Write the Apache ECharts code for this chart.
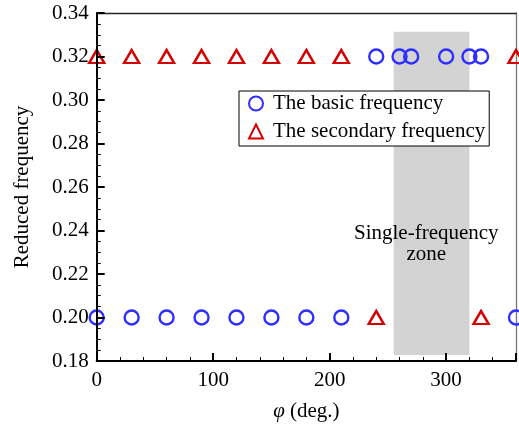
<!DOCTYPE html>
<html>
<head>
<meta charset="utf-8">
<script src="https://cdn.jsdelivr.net/npm/echarts@6/dist/echarts.min.js"></script>
<style>html,body{margin:0;padding:0;background:#fff;}#c{width:519px;height:429px;}</style>
</head>
<body>
<div id="c"></div>
<script>
// Data
var basicPhi = [0, 30, 60, 90, 120, 150, 180, 210, 240, 260, 270, 300, 320, 330, 360];
var basicFreq = [0.20, 0.20, 0.20, 0.20, 0.20, 0.20, 0.20, 0.20, 0.32, 0.32, 0.32, 0.32, 0.32, 0.32, 0.20];
var secondaryPhi = [0, 30, 60, 90, 120, 150, 180, 210, 240, 330, 360];
var secondaryFreq = [0.32, 0.32, 0.32, 0.32, 0.32, 0.32, 0.32, 0.32, 0.20, 0.20, 0.32];
var zonePhi = [255, 320];
var zoneFreq = [0.1828, 0.3314];
var zoneLabelPos = [283, 0.2338];
var xTicks = [0, 100, 200, 300];
var yTicks = [0.18, 0.20, 0.22, 0.24, 0.26, 0.28, 0.30, 0.32, 0.34];
var seriesNames = ['The basic frequency', 'The secondary frequency'];
var zoneText = 'Single-frequency\nzone';

function pairs(xs, ys) { return xs.map(function (x, i) { return [x, ys[i]]; }); }

var font = 'Liberation Serif';
var fs = 21;
var chart = echarts.init(document.getElementById('c'), null, {renderer: 'canvas'});
chart.setOption({
  animation: false,
  backgroundColor: '#fff',
  grid: {left: 96.7, right: 2.5, top: 13, bottom: 68, show: false},
  xAxis: [{
    type: 'value', min: 0, max: 360, interval: 100,
    name: '{i|φ} (deg.)', nameLocation: 'middle', nameGap: 40,
    nameTextStyle: {fontFamily: font, fontSize: fs, color: '#000', rich: {i: {fontFamily: font, fontStyle: 'italic', fontSize: fs}}},
    axisLine: {show: true, onZero: false, lineStyle: {color: '#000', width: 2}},
    axisTick: {show: true, inside: true, length: 8, lineStyle: {color: '#000', width: 2}},
    minorTick: {show: true, splitNumber: 5, length: 4, lineStyle: {color: '#000', width: 1}},
    axisLabel: {fontFamily: font, fontSize: fs, color: '#000', margin: 9,
      formatter: function (v) { return xTicks.indexOf(v) >= 0 ? String(v) : ''; }},
    splitLine: {show: false}, z: 6
  }, {
    type: 'value', min: 0, max: 360, interval: 100, position: 'top',
    axisLine: {show: true, onZero: false, lineStyle: {color: '#222', width: 1.3}},
    axisTick: {show: false}, axisLabel: {show: false}, splitLine: {show: false}
  }],
  yAxis: [{
    type: 'value', min: 0.18, max: 0.34, interval: 0.02,
    name: 'Reduced frequency', nameLocation: 'middle', nameGap: 64,
    nameTextStyle: {fontFamily: font, fontSize: fs, color: '#000'},
    axisLine: {show: true, onZero: false, lineStyle: {color: '#000', width: 2}},
    axisTick: {show: true, inside: true, length: 8, lineStyle: {color: '#000', width: 2}},
    minorTick: {show: true, splitNumber: 4, length: 4, lineStyle: {color: '#000', width: 1}},
    axisLabel: {fontFamily: font, fontSize: fs, color: '#000', margin: 8,
      formatter: function (v) {
        var s = v.toFixed(2);
        return yTicks.some(function (t) { return Math.abs(t - v) < 1e-9; }) ? s : '';
      }},
    splitLine: {show: false}, z: 6
  }, {
    type: 'value', min: 0.18, max: 0.34, interval: 0.02, position: 'right',
    axisLine: {show: true, onZero: false, lineStyle: {color: '#777', width: 1.3}},
    axisTick: {show: false}, axisLabel: {show: false}, splitLine: {show: false}
  }],
  legend: {
    orient: 'vertical', left: 239, top: 91,
    padding: [2, 4, 4, 9], itemGap: 7,
    borderColor: '#000', borderWidth: 1, backgroundColor: '#fff', borderRadius: 0,
    itemWidth: 14, itemHeight: 14,
    textStyle: {fontFamily: font, fontSize: fs, color: '#000', padding: [0, 0, 0, 5]},
    data: seriesNames
  },
  series: [
    {
      name: 'zone', type: 'scatter', data: [], silent: true, z: 1,
      markArea: {
        silent: true,
        itemStyle: {color: '#d3d3d3', opacity: 1},
        data: [[{xAxis: zonePhi[0], yAxis: zoneFreq[0]}, {xAxis: zonePhi[1], yAxis: zoneFreq[1]}]]
      }
    },
    {
      name: 'zoneLabel', type: 'scatter', symbolSize: 0, silent: true, z: 3,
      itemStyle: {opacity: 1},
      data: [zoneLabelPos],
      label: {show: true, position: 'inside', formatter: zoneText, fontFamily: font, fontSize: fs, color: '#000', lineHeight: 21, align: 'center', verticalAlign: 'middle'}
    },
    {
      name: seriesNames[0], type: 'scatter', clip: false, z: 5,
      symbol: 'circle', symbolSize: 14,
      itemStyle: {color: 'rgba(0,0,0,0)', borderColor: '#2e2eff', borderWidth: 2.4, opacity: 1},
      data: pairs(basicPhi, basicFreq)
    },
    {
      name: seriesNames[1], type: 'scatter', clip: false, z: 5,
      symbol: 'triangle', symbolSize: [15, 13],
      itemStyle: {color: 'rgba(0,0,0,0)', borderColor: '#d40000', borderWidth: 2.4, opacity: 1},
      data: pairs(secondaryPhi, secondaryFreq)
    }
  ]
});
</script>
</body>
</html>
